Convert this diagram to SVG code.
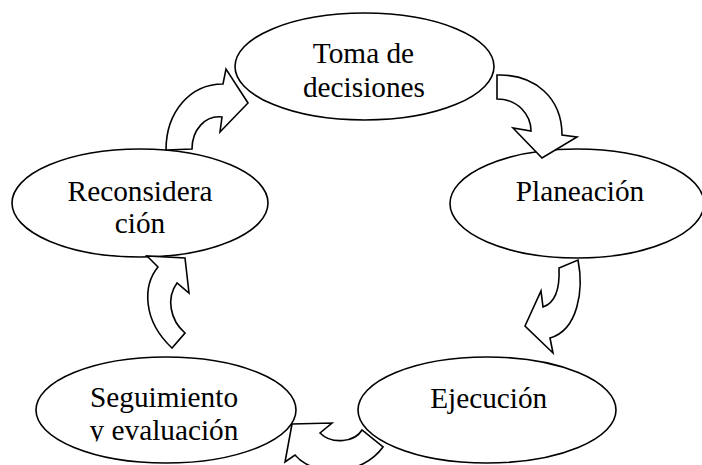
<svg xmlns="http://www.w3.org/2000/svg" width="702" height="465" viewBox="0 0 702 465">
<style>
.node ellipse{fill:#fff;stroke:#000;stroke-width:1.6}
.node text{font-family:"Liberation Serif","Times New Roman",serif;font-size:29.3px;fill:#000;text-anchor:middle}
.arrow{fill:#fff;stroke:#000;stroke-width:1.6;stroke-linejoin:miter}
</style>
<defs>
<clipPath id="clipSeg"><rect x="0" y="330" width="320" height="111.5"/></clipPath>
</defs>
<rect width="702" height="465" fill="#fff"/>
<g id="toma" class="node">
<ellipse cx="364.5" cy="66.5" rx="129.5" ry="53.5"/>
<text x="363.5" y="63.3">Toma de</text>
<text x="364" y="96.7">decisiones</text>
</g>
<g id="planeacion" class="node">
<ellipse cx="577" cy="203.5" rx="127" ry="54.5"/>
<text x="580" y="200.7">Planeación</text>
</g>
<g id="reconsideracion" class="node">
<ellipse cx="140" cy="203" rx="128" ry="54"/>
<text x="140" y="201">Reconsidera</text>
<text x="140" y="233">ción</text>
</g>
<g id="seguimiento" class="node">
<ellipse cx="166" cy="410" rx="130" ry="53"/>
<text x="164" y="407">Seguimiento</text>
<text x="164" y="440" clip-path="url(#clipSeg)">y evaluación</text>
</g>
<g id="ejecucion" class="node">
<ellipse cx="487" cy="410" rx="129" ry="53"/>
<text x="488.7" y="408">Ejecución</text>
</g>
<g id="connectors">
<path class="arrow" d="M166,150 C166,112 190,84 223,84 L226,69 L248,103 L220,132 L222,117 C205,115 192,130 192,149 Z"/>
<path class="arrow" d="M497,75 C535,74 562,98 562,135 L577,137 L542,158 L513,128 L531,131 C531,115 518,99 497,99 Z"/>
<path class="arrow" d="M578,260 C584,290 578,330 550,338 L553,353 L525,326 L541,291 L543,307 C555,303 560,290 559,268 Z"/>
<path class="arrow" d="M362,430 C355,442 332,445 320,433 L332,423 L292,424 L285,462 L295,455 C315,478 362,476 383,447 Z"/>
<path class="arrow" d="M185,333 C170,320 166,298 177,283 L189,293 L185,258 L147,256 L158,267 C143,285 142,320 172,348 Z"/>
</g>
</svg>
